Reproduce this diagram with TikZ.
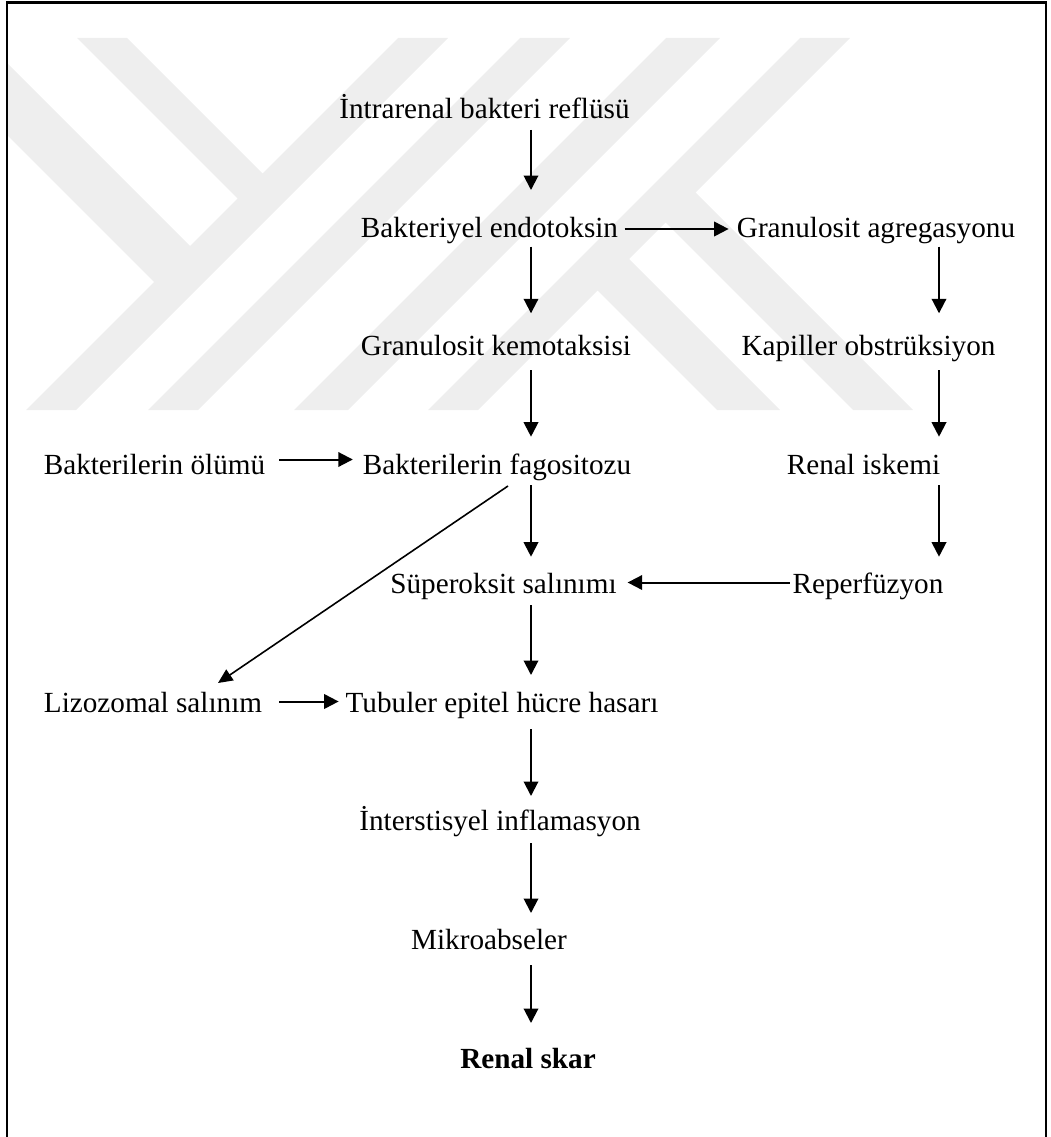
\documentclass[tikz,border=0pt]{standalone}
\usepackage{fontspec}
\setmainfont{Liberation Serif}
\usetikzlibrary{arrows.meta,calc}
\definecolor{wm}{gray}{0.935}
\begin{document}
\begin{tikzpicture}[x=1pt,y=-1pt,
  lbl/.style={inner sep=0pt,outer sep=0pt,anchor=base,text height=22pt,text depth=7pt,
    font=\fontsize{29.2}{35}\selectfont},
  arr/.style={line width=2pt,-{Triangle[length=14.5pt,width=14.5pt]}},
  diag/.style={line width=1.6pt,-{Triangle[length=14.5pt,width=13pt]}},
  frame/.style={line width=2.4pt}]
\useasboundingbox (0,0) rectangle (1051,1137);
% watermark
\begin{scope}
\clip (7,0) rectangle (1046,1137);
\fill[wm] (398,38) -- (448,38) -- (76,410) -- (26,410) -- cycle;
\fill[wm] (520,38) -- (570,38) -- (198,410) -- (148,410) -- cycle;
\fill[wm] (666,38) -- (720,38) -- (348,410) -- (294,410) -- cycle;
\fill[wm] (800,38) -- (850,38) -- (478,410) -- (428,410) -- cycle;
\fill[wm] (77,38) -- (127,38) -- (275,186) -- (250,211) -- cycle;
\fill[wm] (0,56) -- (202.5,258.5) -- (166.5,294.5) -- (0,128) -- cycle;
\fill[wm] (683,180) -- (913,410) -- (853,410) -- (653,210) -- cycle;
\fill[wm] (616.5,246.5) -- (780,410) -- (717,410) -- (585,278) -- cycle;
\end{scope}
% frame
\draw[frame] (7,1137) -- (7,2.5) -- (1046,2.5) -- (1046,1137);
% nodes
\node[lbl] (n1) at (484.5,118) {İntrarenal bakteri reflüsü};
\node[lbl] (n2) at (489.5,237) {Bakteriyel endotoksin};
\node[lbl] (n3) at (876,237) {Granulosit agregasyonu};
\node[lbl] (n4) at (496,355) {Granulosit kemotaksisi};
\node[lbl] (n5) at (868.5,355) {Kapiller obstrüksiyon};
\node[lbl] (n6) at (154.5,474) {Bakterilerin ölümü};
\node[lbl] (n7) at (497,474) {Bakterilerin fagositozu};
\node[lbl] (n8) at (863.5,474) {Renal iskemi};
\node[lbl] (n9) at (503.5,593) {Süperoksit salınımı};
\node[lbl] (n10) at (868,593) {Reperfüzyon};
\node[lbl] (n11) at (153,712) {Lizozomal salınım};
\node[lbl] (n12) at (502,712) {Tubuler epitel hücre hasarı};
\node[lbl] (n13) at (500,830) {İnterstisyel inflamasyon};
\node[lbl] (n14) at (489,949) {Mikroabseler};
\node[lbl,font=\fontsize{29.2}{35}\selectfont\bfseries] (n15) at (528,1068) {Renal skar};
\coordinate (cm) at (531,0);
\coordinate (cr) at (939,0);
% vertical arrows, main column
\draw[arr,shorten <=5pt,shorten >=25pt] (n1.south -| cm) -- (n2.north -| cm);
\draw[arr,shorten <=2.7pt,shorten >=19.7pt] (n2.south -| cm) -- (n4.north -| cm);
\draw[arr,shorten <=8pt,shorten >=15.3pt] (n4.south -| cm) -- (n7.north -| cm);
\draw[arr,shorten <=4pt,shorten >=14.3pt] (n7.south -| cm) -- (n9.north -| cm);
\draw[arr,shorten <=5pt,shorten >=15pt] (n9.south -| cm) -- (n12.north -| cm);
\draw[arr,shorten <=10pt,shorten >=12pt] (n12.south -| cm) -- (n13.north -| cm);
\draw[arr,shorten <=6pt,shorten >=14pt] (n13.south -| cm) -- (n14.north -| cm);
\draw[arr,shorten <=9pt,shorten >=23pt] (n14.south -| cm) -- (n15.north -| cm);
% vertical arrows, right column
\draw[arr,shorten <=2.7pt,shorten >=19.7pt] (n3.south -| cr) -- (n5.north -| cr);
\draw[arr,shorten <=8pt,shorten >=15.3pt] (n5.south -| cr) -- (n8.north -| cr);
\draw[arr,shorten <=4pt,shorten >=14.3pt] (n8.south -| cr) -- (n10.north -| cr);
% horizontal arrows
\draw[arr,shorten <=6.6pt,shorten >=8.3pt] ([yshift=0.5pt]n2.east) -- ([yshift=0.5pt]n3.west);
\draw[arr,shorten <=14pt,shorten >=10pt] ([yshift=7pt]n6.east) -- ([yshift=7pt]n7.west);
\draw[arr,shorten <=3pt,shorten >=11pt] ([yshift=3pt]n10.west) -- ([yshift=3pt]n9.east);
\draw[arr,shorten <=17pt,shorten >=7pt] ([yshift=3pt]n11.east) -- ([yshift=3pt]n12.west);
% diagonal
\draw[diag] ($(n7.base)+(11,12)$) -- ($(n11.base)+(65,-29)$);
\end{tikzpicture}
\end{document}
